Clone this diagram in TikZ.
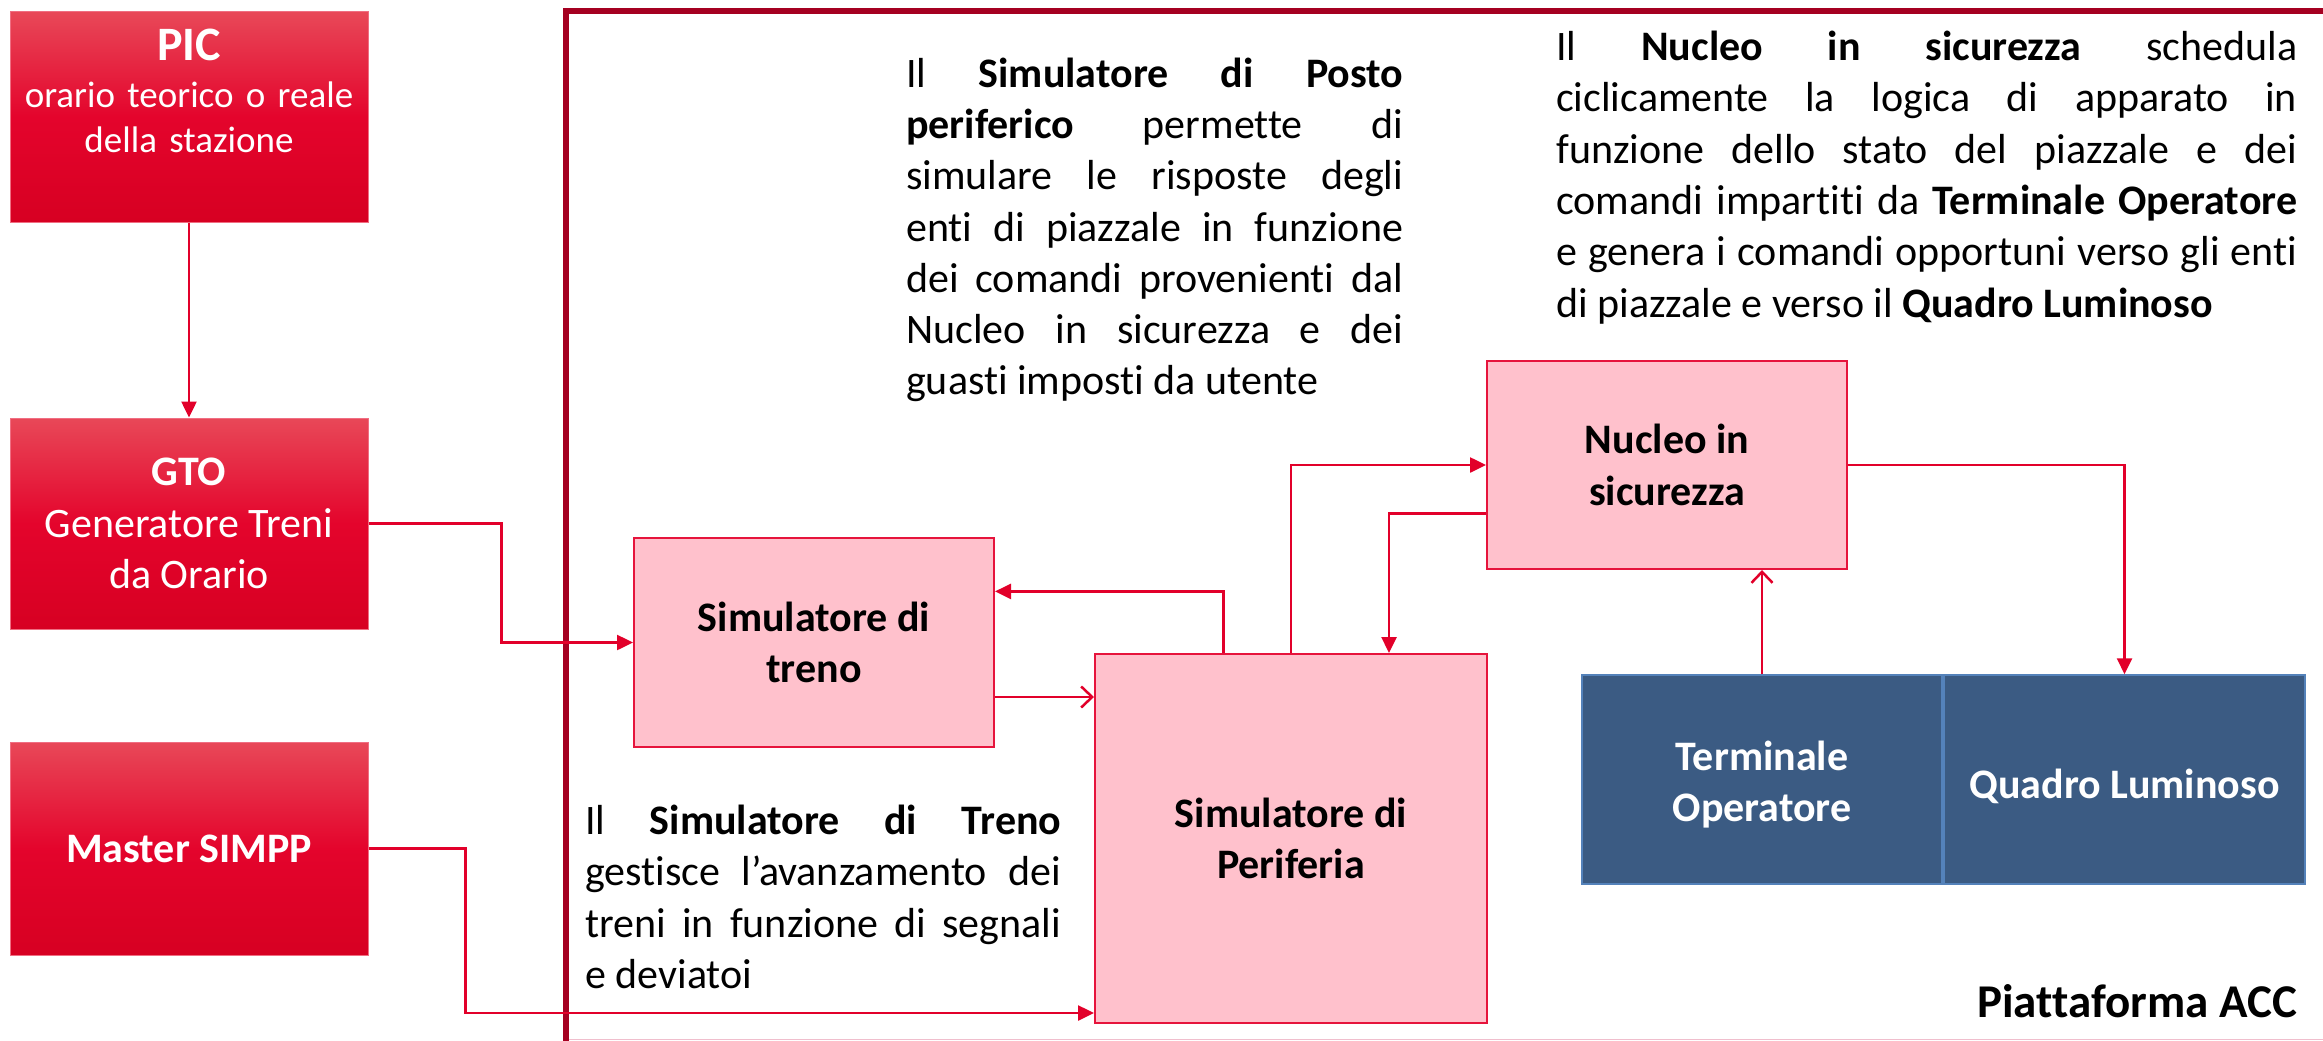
\documentclass[tikz,border=0pt]{standalone}
\usepackage{fontspec}
\setmainfont{Carlito}[Ligatures={TeX,NoCommon}]
\usetikzlibrary{arrows.meta,calc}
\definecolor{framered}{RGB}{165,0,33}
\definecolor{connred}{RGB}{226,0,42}
\definecolor{pinkfill}{RGB}{255,193,204}
\definecolor{pinkedge}{RGB}{230,20,60}
\definecolor{bluefill}{RGB}{59,91,131}
\definecolor{blueedge}{RGB}{84,130,186}
\definecolor{redtop}{RGB}{232,72,88}
\definecolor{redmid}{RGB}{228,4,44}
\definecolor{redbot}{RGB}{215,0,34}
\definecolor{redborder}{RGB}{240,110,130}
\definecolor{pinkline}{RGB}{240,190,205}
\newcommand\fsz{\fontsize{42}{51.3}\selectfont}
\hyphenpenalty=10000
\exhyphenpenalty=10000
\tolerance=10000
\tikzset{
  redbox/.style={rectangle, draw=redborder, line width=1pt, top color=redtop, bottom color=redbot, middle color=redmid, minimum width=358pt, text=white, align=center, inner sep=0pt, font=\fsz},
  pinkbox/.style={rectangle, draw=pinkedge, line width=2pt, fill=pinkfill, font=\fsz\bfseries, align=center, inner sep=0pt},
  bluebox/.style={rectangle, draw=blueedge, line width=1.5pt, fill=bluefill, text=white, font=\fsz\bfseries, align=center, inner sep=0pt, minimum height=209pt},
  para/.style={font=\fsz, align=justify, inner sep=0pt, anchor=north west},
  conn/.style={draw=connred, line width=2.5pt},
  fillarrow/.style={conn, -{Triangle[length=16pt,width=15pt]}},
  openarrow/.style={conn, -{Straight Barb[length=11pt,width=21pt]}},
}
\begin{document}
\begin{tikzpicture}[x=1pt,y=-1pt]
\useasboundingbox (0,0) rectangle (2323,1041);
\fill[white] (0,0) rectangle (2323,1041);
% frame of the platform
\draw[pinkline, line width=1.5pt] (566,1039.5) -- (2330,1039.5);
\draw[framered, line width=6pt] (566,1045) -- (566,10.7) -- (2330,10.7);
% left column
\node[redbox, minimum height=210pt] (pic) at (189,117) {};
\node[font=\fontsize{48}{58}\selectfont\bfseries, text=white, anchor=base, inner sep=0pt] (pictitle) at (189,60) {PIC};
\node[font=\fontsize{37}{45}\selectfont, text=white, text width=358pt, align=center, anchor=north, inner sep=0pt] (picsub) at (189,75.5) {\strut orario teorico o reale\\della stazione};
\node[redbox, minimum height=211pt] (gto) at (189,523.5) {\textbf{GTO}\\Generatore Treni\\da Orario};
\node[redbox, minimum height=213pt, font=\fsz\bfseries] (master) at (189,848.5) {Master SIMPP};
% platform blocks
\node[pinkbox, minimum width=360pt, minimum height=209pt] (treno) at (814,642.5) {Simulatore di\\treno};
\node[pinkbox, minimum width=392pt, minimum height=369pt] (peri) at (1291,838.5) {Simulatore di\\Periferia};
\node[pinkbox, minimum width=360pt, minimum height=208pt] (nucleo) at (1667,465) {Nucleo in\\sicurezza};
\node[bluebox, minimum width=360pt] (term) at (1762,779.5) {\rule{0pt}{40pt}Terminale\\Operatore};
\node[bluebox, minimum width=361pt] (quadro) at (2124.5,779.5) {\rule{0pt}{44pt}Quadro Luminoso};
% descriptions
\node[para, text width=497pt] (txtposto) at (906,51) {\strut Il \textbf{Simulatore di Posto}\linebreak \textbf{periferico} permette di\linebreak simulare le risposte degli\linebreak enti di piazzale in funzione\linebreak dei comandi provenienti dal\linebreak Nucleo in sicurezza e dei\linebreak guasti imposti da utente};
\node[para, text width=741pt] (txtnucleo) at (1556,24.4) {\strut Il \textbf{Nucleo in sicurezza} schedula\linebreak ciclicamente la logica di apparato in\linebreak funzione dello stato del piazzale e dei\linebreak comandi impartiti da \textbf{Terminale Operatore}\linebreak e genera i comandi opportuni verso gli enti\linebreak di piazzale e verso il \textbf{Quadro Luminoso}};
\node[para, text width=476pt] (txttreno) at (585,798.5) {\strut Il \textbf{Simulatore di Treno}\linebreak gestisce l’avanzamento dei\linebreak treni in funzione di segnali\linebreak e deviatoi};
\node[font=\fontsize{47}{57}\selectfont\bfseries, anchor=base east, inner sep=0pt] (acc) at (2297,1017) {Piattaforma ACC};
% connectors
\draw[fillarrow] (pic.south) -- (gto.north);
\draw[fillarrow] (gto.east) -- ++(133,0) |- (treno.west);
\coordinate (mastin) at ($(peri.south west)+(0,-11)$);
\draw[fillarrow] (master.east) -- ++(97,0) |- (mastin);
\coordinate (peritop1) at ($(peri.north west)+(129.5,0)$);
\coordinate (trenoin) at ($(treno.north east)+(0,54.4)$);
\draw[fillarrow] (peritop1) |- (trenoin);
\coordinate (trenoout) at ($(treno.south east)+(0,-51)$);
\draw[openarrow] (trenoout) -- (trenoout -| peri.west);
\draw[fillarrow] (peri.north) |- (nucleo.west);
\coordinate (nucout) at ($(nucleo.south west)+(0,-56.5)$);
\coordinate (peritop2) at ($(peri.north west)+(295,0)$);
\draw[fillarrow] (nucout) -| (peritop2);
\draw[fillarrow] (nucleo.east) -| (quadro.north);
\draw[openarrow] (term.north) -- (term.north |- nucleo.south);
\end{tikzpicture}
\end{document}
